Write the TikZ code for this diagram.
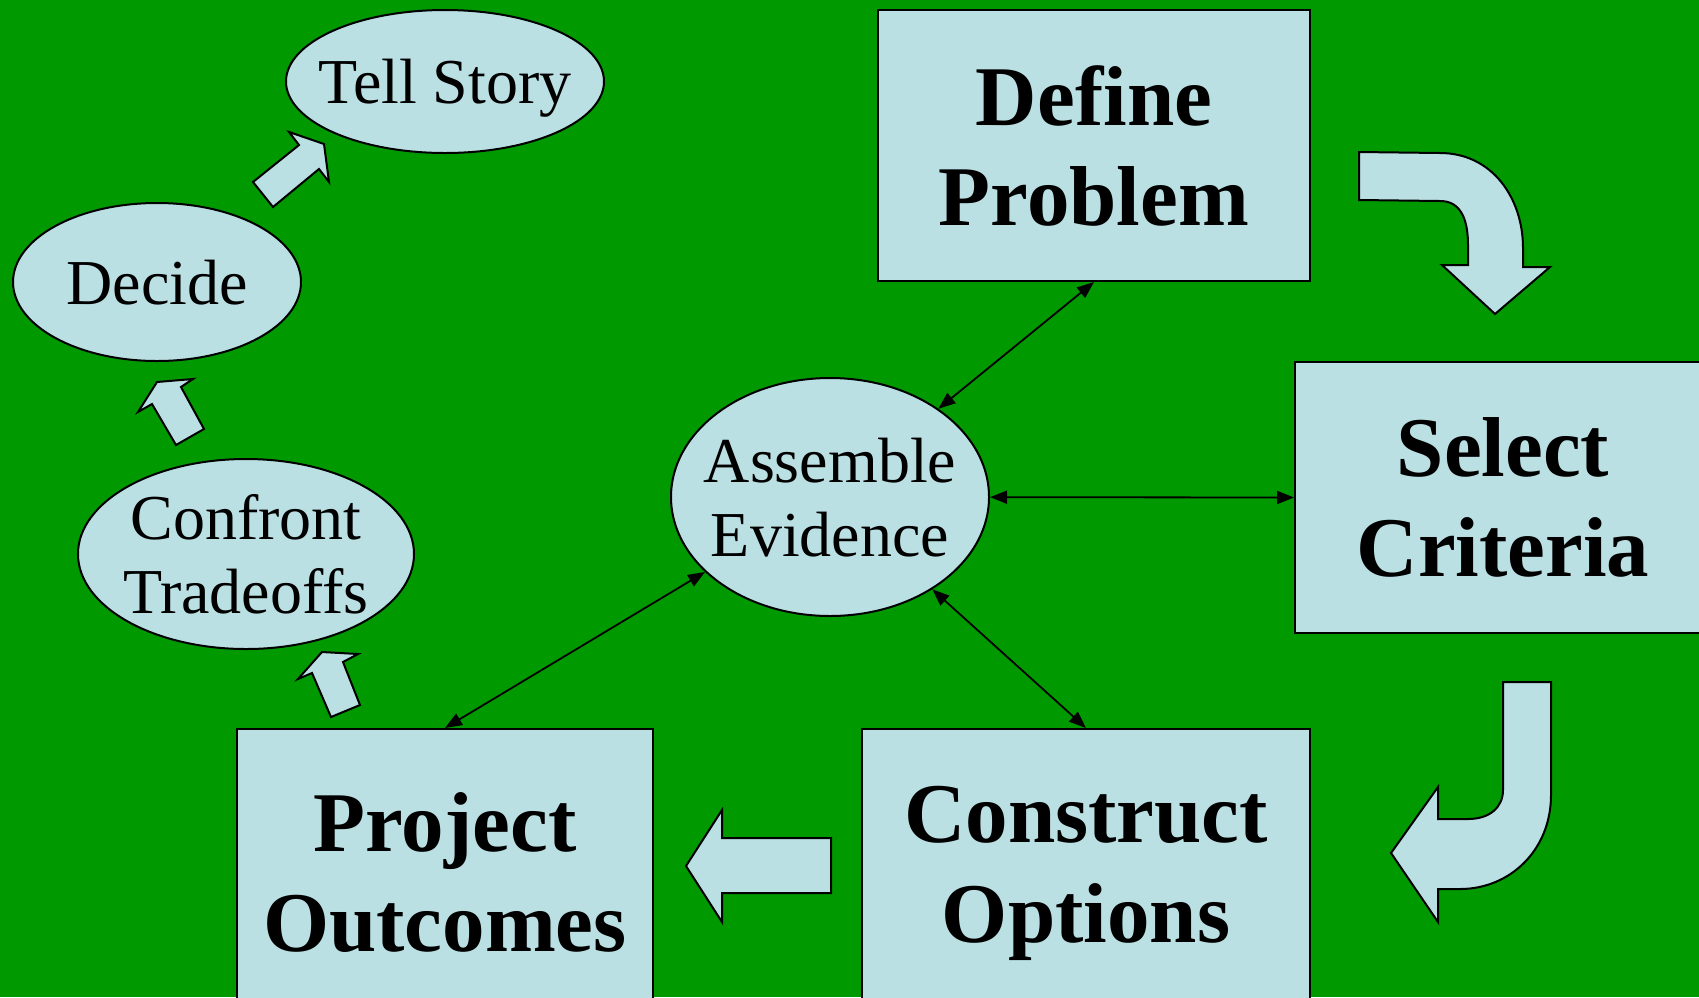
\documentclass[tikz,border=0pt]{standalone}
\usepackage{fontspec}
\setmainfont{Liberation Serif}
\usetikzlibrary{shapes,arrows.meta,positioning,calc}
\definecolor{slidegreen}{RGB}{0,153,0}
\definecolor{boxblue}{RGB}{187,224,227}

\begin{document}
\begin{tikzpicture}[x=1pt, y=-1pt,
    stepbox/.style={draw, line width=2pt, fill=boxblue, inner sep=0pt, align=center, font=\fontsize{85}{100}\selectfont\bfseries},
    bubble/.style={draw, ellipse, line width=2pt, fill=boxblue, inner xsep=-16pt, inner ysep=0pt, text depth=0pt, align=center, font=\fontsize{64}{74}\selectfont},
    link/.style={line width=1.8pt, {Triangle[length=17pt,width=13pt]}-{Triangle[length=17pt,width=13pt]}},
    bigarrow/.style={draw, line width=2pt, fill=boxblue, line join=miter}]
    \fill[slidegreen] (0,0) rectangle (1699,997);
    \useasboundingbox (0,0) rectangle (1699,997);
    % the four steps
    \node[stepbox, minimum width=432pt, minimum height=271pt] (def) at (1094,145.5) {Define\\Problem};
    \node[stepbox, minimum width=416pt, minimum height=271pt] (sel) at (1503,497.5) {Select\\Criteria};
    \node[stepbox, minimum width=448pt, minimum height=288pt] (con) at (1086,873) {Construct\\Options};
    \node[stepbox, minimum width=416pt, minimum height=288pt] (pro) at (445,873) {Project\\Outcomes};
    % ellipses
    \node[bubble, minimum width=318pt, minimum height=238pt] (asm) at (830,497) {Assemble\\Evidence};
    \node[bubble, minimum width=336pt, minimum height=190pt] (trd) at (246,554) {Confront\\Tradeoffs};
    \node[bubble, minimum width=288pt, minimum height=158pt] (dec) at (157,282) {Decide};
    \node[bubble, minimum width=318pt, minimum height=143pt] (tell) at (445,81.5) {Tell Story};
    % evidence links
    \draw[link] (asm) -- (def.south);
    \draw[link] (asm) -- (sel.west);
    \draw[link] (asm) -- (con.north);
    \draw[link] (asm) -- (pro.north);
    % block arrows
    \draw[bigarrow] (1359,152) -- (1440,153) .. controls (1492,153) and (1523,198) .. (1523,248)
        -- (1523,267) -- (1550,267) -- (1495,314) -- (1442,265) -- (1468,265) -- (1468,245)
        .. controls (1468,218) and (1460,201) .. (1440,201) -- (1359,200) -- cycle;
    \draw[bigarrow] (1503,682) -- (1551,682) -- (1551,795) .. controls (1551,850) and (1510,889) .. (1460,889)
        -- (1438,889) -- (1438,922) -- (1391,853) -- (1438,787) -- (1438,819) -- (1468,819)
        .. controls (1490,819) and (1503,807) .. (1503,790) -- cycle;
    \draw[bigarrow] (831,838) -- (722,838) -- (722,810) -- (686,866) -- (722,922) -- (722,893) -- (831,893) -- cycle;
    \draw[bigarrow] (331,717) -- (312,673) -- (298,679) -- (322,652) -- (358,654) -- (343,662) -- (360,705) -- cycle;
    \draw[bigarrow] (176,445) -- (152,404) -- (138,412) -- (157,382) -- (193,379) -- (181,387) -- (204,429) -- cycle;
    \draw[bigarrow] (253,182) -- (299,145) -- (289,132) -- (324,144) -- (329,182) -- (319,169) -- (273,207) -- cycle;
\end{tikzpicture}
\end{document}
